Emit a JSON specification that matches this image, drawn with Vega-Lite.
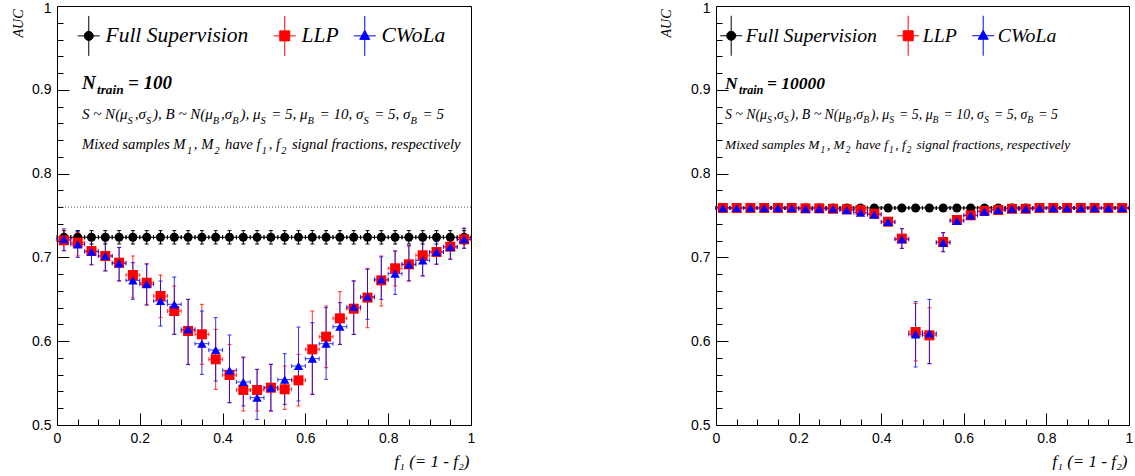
{
  "$schema": "https://vega.github.io/schema/vega-lite/v6.json",
  "background": "white",
  "padding": {"left": 10, "top": 0, "right": 0, "bottom": 0},
  "spacing": 182,
  "config": {
    "view": {"stroke": "#000000", "strokeWidth": 1},
    "axis": {
      "domain": false, "grid": false, "labelFlush": false, "labelOverlap": false,
      "labelFont": "Liberation Sans", "labelFontSize": 14, "labelColor": "#000000",
      "tickColor": "#000000", "tickWidth": 1, "titleColor": "#000000", "titleFontWeight": "normal"
    },
    "text": {"font": "Liberation Serif", "fontStyle": "italic", "align": "left", "baseline": "alphabetic", "color": "#000000"}
  },
  "resolve": {"scale": {"color": "independent"}, "legend": {"color": "independent"}},
  "datasets": {
    "auc": [
      {"n":100,"m":"Full Supervision","f":0.0167,"x0":0,"x1":0.0333,"a":0.724,"lo":0.716,"hi":0.732},
      {"n":100,"m":"Full Supervision","f":0.05,"x0":0.0333,"x1":0.0667,"a":0.724,"lo":0.716,"hi":0.732},
      {"n":100,"m":"Full Supervision","f":0.0833,"x0":0.0667,"x1":0.1,"a":0.724,"lo":0.716,"hi":0.732},
      {"n":100,"m":"Full Supervision","f":0.1167,"x0":0.1,"x1":0.1333,"a":0.724,"lo":0.716,"hi":0.732},
      {"n":100,"m":"Full Supervision","f":0.15,"x0":0.1333,"x1":0.1667,"a":0.724,"lo":0.716,"hi":0.732},
      {"n":100,"m":"Full Supervision","f":0.1833,"x0":0.1667,"x1":0.2,"a":0.724,"lo":0.716,"hi":0.732},
      {"n":100,"m":"Full Supervision","f":0.2167,"x0":0.2,"x1":0.2333,"a":0.724,"lo":0.716,"hi":0.732},
      {"n":100,"m":"Full Supervision","f":0.25,"x0":0.2333,"x1":0.2667,"a":0.724,"lo":0.716,"hi":0.732},
      {"n":100,"m":"Full Supervision","f":0.2833,"x0":0.2667,"x1":0.3,"a":0.724,"lo":0.716,"hi":0.732},
      {"n":100,"m":"Full Supervision","f":0.3167,"x0":0.3,"x1":0.3333,"a":0.724,"lo":0.716,"hi":0.732},
      {"n":100,"m":"Full Supervision","f":0.35,"x0":0.3333,"x1":0.3667,"a":0.724,"lo":0.716,"hi":0.732},
      {"n":100,"m":"Full Supervision","f":0.3833,"x0":0.3667,"x1":0.4,"a":0.724,"lo":0.716,"hi":0.732},
      {"n":100,"m":"Full Supervision","f":0.4167,"x0":0.4,"x1":0.4333,"a":0.724,"lo":0.716,"hi":0.732},
      {"n":100,"m":"Full Supervision","f":0.45,"x0":0.4333,"x1":0.4667,"a":0.724,"lo":0.716,"hi":0.732},
      {"n":100,"m":"Full Supervision","f":0.4833,"x0":0.4667,"x1":0.5,"a":0.724,"lo":0.716,"hi":0.732},
      {"n":100,"m":"Full Supervision","f":0.5167,"x0":0.5,"x1":0.5333,"a":0.724,"lo":0.716,"hi":0.732},
      {"n":100,"m":"Full Supervision","f":0.55,"x0":0.5333,"x1":0.5667,"a":0.724,"lo":0.716,"hi":0.732},
      {"n":100,"m":"Full Supervision","f":0.5833,"x0":0.5667,"x1":0.6,"a":0.724,"lo":0.716,"hi":0.732},
      {"n":100,"m":"Full Supervision","f":0.6167,"x0":0.6,"x1":0.6333,"a":0.724,"lo":0.716,"hi":0.732},
      {"n":100,"m":"Full Supervision","f":0.65,"x0":0.6333,"x1":0.6667,"a":0.724,"lo":0.716,"hi":0.732},
      {"n":100,"m":"Full Supervision","f":0.6833,"x0":0.6667,"x1":0.7,"a":0.724,"lo":0.716,"hi":0.732},
      {"n":100,"m":"Full Supervision","f":0.7167,"x0":0.7,"x1":0.7333,"a":0.724,"lo":0.716,"hi":0.732},
      {"n":100,"m":"Full Supervision","f":0.75,"x0":0.7333,"x1":0.7667,"a":0.724,"lo":0.716,"hi":0.732},
      {"n":100,"m":"Full Supervision","f":0.7833,"x0":0.7667,"x1":0.8,"a":0.724,"lo":0.716,"hi":0.732},
      {"n":100,"m":"Full Supervision","f":0.8167,"x0":0.8,"x1":0.8333,"a":0.724,"lo":0.716,"hi":0.732},
      {"n":100,"m":"Full Supervision","f":0.85,"x0":0.8333,"x1":0.8667,"a":0.724,"lo":0.716,"hi":0.732},
      {"n":100,"m":"Full Supervision","f":0.8833,"x0":0.8667,"x1":0.9,"a":0.724,"lo":0.716,"hi":0.732},
      {"n":100,"m":"Full Supervision","f":0.9167,"x0":0.9,"x1":0.9333,"a":0.724,"lo":0.716,"hi":0.732},
      {"n":100,"m":"Full Supervision","f":0.95,"x0":0.9333,"x1":0.9667,"a":0.724,"lo":0.716,"hi":0.732},
      {"n":100,"m":"Full Supervision","f":0.9833,"x0":0.9667,"x1":1,"a":0.724,"lo":0.716,"hi":0.732},

      {"n":100,"m":"LLP","f":0.0167,"x0":0,"x1":0.0333,"a":0.7204,"lo":0.708,"hi":0.732},
      {"n":100,"m":"LLP","f":0.05,"x0":0.0333,"x1":0.0667,"a":0.7176,"lo":0.7017,"hi":0.7295},
      {"n":100,"m":"LLP","f":0.0833,"x0":0.0667,"x1":0.1,"a":0.7076,"lo":0.6917,"hi":0.7216},
      {"n":100,"m":"LLP","f":0.1167,"x0":0.1,"x1":0.1333,"a":0.7017,"lo":0.6838,"hi":0.7196},
      {"n":100,"m":"LLP","f":0.15,"x0":0.1333,"x1":0.1667,"a":0.6937,"lo":0.6718,"hi":0.7116},
      {"n":100,"m":"LLP","f":0.1833,"x0":0.1667,"x1":0.2,"a":0.679,"lo":0.6519,"hi":0.7017},
      {"n":100,"m":"LLP","f":0.2167,"x0":0.2,"x1":0.2333,"a":0.6698,"lo":0.644,"hi":0.6925},
      {"n":100,"m":"LLP","f":0.25,"x0":0.2333,"x1":0.2667,"a":0.6539,"lo":0.6281,"hi":0.679},
      {"n":100,"m":"LLP","f":0.2833,"x0":0.2667,"x1":0.3,"a":0.636,"lo":0.6082,"hi":0.6659},
      {"n":100,"m":"LLP","f":0.3167,"x0":0.3,"x1":0.3333,"a":0.6122,"lo":0.5724,"hi":0.6499},
      {"n":100,"m":"LLP","f":0.35,"x0":0.3333,"x1":0.3667,"a":0.6082,"lo":0.5724,"hi":0.644},
      {"n":100,"m":"LLP","f":0.3833,"x0":0.3667,"x1":0.4,"a":0.5784,"lo":0.5425,"hi":0.6141},
      {"n":100,"m":"LLP","f":0.4167,"x0":0.4,"x1":0.4333,"a":0.5597,"lo":0.5266,"hi":0.5962},
      {"n":100,"m":"LLP","f":0.45,"x0":0.4333,"x1":0.4667,"a":0.5418,"lo":0.5167,"hi":0.5803},
      {"n":100,"m":"LLP","f":0.4833,"x0":0.4667,"x1":0.5,"a":0.5418,"lo":0.5167,"hi":0.5664},
      {"n":100,"m":"LLP","f":0.5167,"x0":0.5,"x1":0.5333,"a":0.5445,"lo":0.5167,"hi":0.5724},
      {"n":100,"m":"LLP","f":0.55,"x0":0.5333,"x1":0.5667,"a":0.5426,"lo":0.5187,"hi":0.5704},
      {"n":100,"m":"LLP","f":0.5833,"x0":0.5667,"x1":0.6,"a":0.5533,"lo":0.5227,"hi":0.5843},
      {"n":100,"m":"LLP","f":0.6167,"x0":0.6,"x1":0.6333,"a":0.5903,"lo":0.5366,"hi":0.636},
      {"n":100,"m":"LLP","f":0.65,"x0":0.6333,"x1":0.6667,"a":0.6054,"lo":0.5684,"hi":0.642},
      {"n":100,"m":"LLP","f":0.6833,"x0":0.6667,"x1":0.7,"a":0.6273,"lo":0.5962,"hi":0.6591},
      {"n":100,"m":"LLP","f":0.7167,"x0":0.7,"x1":0.7333,"a":0.6388,"lo":0.6082,"hi":0.6718},
      {"n":100,"m":"LLP","f":0.75,"x0":0.7333,"x1":0.7667,"a":0.652,"lo":0.6161,"hi":0.6869},
      {"n":100,"m":"LLP","f":0.7833,"x0":0.7667,"x1":0.8,"a":0.6726,"lo":0.642,"hi":0.7017},
      {"n":100,"m":"LLP","f":0.8167,"x0":0.8,"x1":0.8333,"a":0.687,"lo":0.6659,"hi":0.7076},
      {"n":100,"m":"LLP","f":0.85,"x0":0.8333,"x1":0.8667,"a":0.6917,"lo":0.6718,"hi":0.7136},
      {"n":100,"m":"LLP","f":0.8833,"x0":0.8667,"x1":0.9,"a":0.7025,"lo":0.6778,"hi":0.7235},
      {"n":100,"m":"LLP","f":0.9167,"x0":0.9,"x1":0.9333,"a":0.7064,"lo":0.6917,"hi":0.7188},
      {"n":100,"m":"LLP","f":0.95,"x0":0.9333,"x1":0.9667,"a":0.7128,"lo":0.6977,"hi":0.7275},
      {"n":100,"m":"LLP","f":0.9833,"x0":0.9667,"x1":1,"a":0.7216,"lo":0.7108,"hi":0.7347},

      {"n":100,"m":"CWoLa","f":0.0167,"x0":0,"x1":0.0333,"a":0.7216,"lo":0.708,"hi":0.734},
      {"n":100,"m":"CWoLa","f":0.05,"x0":0.0333,"x1":0.0667,"a":0.7156,"lo":0.700,"hi":0.731},
      {"n":100,"m":"CWoLa","f":0.0833,"x0":0.0667,"x1":0.1,"a":0.7068,"lo":0.691,"hi":0.722},
      {"n":100,"m":"CWoLa","f":0.1167,"x0":0.1,"x1":0.1333,"a":0.7017,"lo":0.684,"hi":0.720},
      {"n":100,"m":"CWoLa","f":0.15,"x0":0.1333,"x1":0.1667,"a":0.6929,"lo":0.672,"hi":0.712},
      {"n":100,"m":"CWoLa","f":0.1833,"x0":0.1667,"x1":0.2,"a":0.6726,"lo":0.6499,"hi":0.6937},
      {"n":100,"m":"CWoLa","f":0.2167,"x0":0.2,"x1":0.2333,"a":0.6679,"lo":0.643,"hi":0.692},
      {"n":100,"m":"CWoLa","f":0.25,"x0":0.2333,"x1":0.2667,"a":0.648,"lo":0.6181,"hi":0.6718},
      {"n":100,"m":"CWoLa","f":0.2833,"x0":0.2667,"x1":0.3,"a":0.644,"lo":0.6082,"hi":0.6766},
      {"n":100,"m":"CWoLa","f":0.3167,"x0":0.3,"x1":0.3333,"a":0.6142,"lo":0.572,"hi":0.650},
      {"n":100,"m":"CWoLa","f":0.35,"x0":0.3333,"x1":0.3667,"a":0.597,"lo":0.5604,"hi":0.636},
      {"n":100,"m":"CWoLa","f":0.3833,"x0":0.3667,"x1":0.4,"a":0.5895,"lo":0.5525,"hi":0.6281},
      {"n":100,"m":"CWoLa","f":0.4167,"x0":0.4,"x1":0.4333,"a":0.5652,"lo":0.5266,"hi":0.6074},
      {"n":100,"m":"CWoLa","f":0.45,"x0":0.4333,"x1":0.4667,"a":0.5513,"lo":0.5227,"hi":0.5811},
      {"n":100,"m":"CWoLa","f":0.4833,"x0":0.4667,"x1":0.5,"a":0.5326,"lo":0.5067,"hi":0.5664},
      {"n":100,"m":"CWoLa","f":0.5167,"x0":0.5,"x1":0.5333,"a":0.5445,"lo":0.5167,"hi":0.5724},
      {"n":100,"m":"CWoLa","f":0.55,"x0":0.5333,"x1":0.5667,"a":0.5541,"lo":0.5246,"hi":0.5851},
      {"n":100,"m":"CWoLa","f":0.5833,"x0":0.5667,"x1":0.6,"a":0.5704,"lo":0.5286,"hi":0.6169},
      {"n":100,"m":"CWoLa","f":0.6167,"x0":0.6,"x1":0.6333,"a":0.5792,"lo":0.5366,"hi":0.6221},
      {"n":100,"m":"CWoLa","f":0.65,"x0":0.6333,"x1":0.6667,"a":0.597,"lo":0.5545,"hi":0.64},
      {"n":100,"m":"CWoLa","f":0.6833,"x0":0.6667,"x1":0.7,"a":0.6173,"lo":0.5962,"hi":0.646},
      {"n":100,"m":"CWoLa","f":0.7167,"x0":0.7,"x1":0.7333,"a":0.6408,"lo":0.608,"hi":0.672},
      {"n":100,"m":"CWoLa","f":0.75,"x0":0.7333,"x1":0.7667,"a":0.6531,"lo":0.6261,"hi":0.6857},
      {"n":100,"m":"CWoLa","f":0.7833,"x0":0.7667,"x1":0.8,"a":0.6738,"lo":0.6499,"hi":0.7005},
      {"n":100,"m":"CWoLa","f":0.8167,"x0":0.8,"x1":0.8333,"a":0.6806,"lo":0.6559,"hi":0.7076},
      {"n":100,"m":"CWoLa","f":0.85,"x0":0.8333,"x1":0.8667,"a":0.6917,"lo":0.672,"hi":0.714},
      {"n":100,"m":"CWoLa","f":0.8833,"x0":0.8667,"x1":0.9,"a":0.6965,"lo":0.678,"hi":0.7235},
      {"n":100,"m":"CWoLa","f":0.9167,"x0":0.9,"x1":0.9333,"a":0.7064,"lo":0.692,"hi":0.719},
      {"n":100,"m":"CWoLa","f":0.95,"x0":0.9333,"x1":0.9667,"a":0.7124,"lo":0.698,"hi":0.7275},
      {"n":100,"m":"CWoLa","f":0.9833,"x0":0.9667,"x1":1,"a":0.7216,"lo":0.711,"hi":0.735},

      {"n":10000,"m":"Full Supervision","f":0.0167,"x0":0,"x1":0.0333,"a":0.759,"lo":0.758,"hi":0.760},
      {"n":10000,"m":"Full Supervision","f":0.05,"x0":0.0333,"x1":0.0667,"a":0.759,"lo":0.758,"hi":0.760},
      {"n":10000,"m":"Full Supervision","f":0.0833,"x0":0.0667,"x1":0.1,"a":0.759,"lo":0.758,"hi":0.760},
      {"n":10000,"m":"Full Supervision","f":0.1167,"x0":0.1,"x1":0.1333,"a":0.759,"lo":0.758,"hi":0.760},
      {"n":10000,"m":"Full Supervision","f":0.15,"x0":0.1333,"x1":0.1667,"a":0.759,"lo":0.758,"hi":0.760},
      {"n":10000,"m":"Full Supervision","f":0.1833,"x0":0.1667,"x1":0.2,"a":0.759,"lo":0.758,"hi":0.760},
      {"n":10000,"m":"Full Supervision","f":0.2167,"x0":0.2,"x1":0.2333,"a":0.759,"lo":0.758,"hi":0.760},
      {"n":10000,"m":"Full Supervision","f":0.25,"x0":0.2333,"x1":0.2667,"a":0.759,"lo":0.758,"hi":0.760},
      {"n":10000,"m":"Full Supervision","f":0.2833,"x0":0.2667,"x1":0.3,"a":0.759,"lo":0.758,"hi":0.760},
      {"n":10000,"m":"Full Supervision","f":0.3167,"x0":0.3,"x1":0.3333,"a":0.759,"lo":0.758,"hi":0.760},
      {"n":10000,"m":"Full Supervision","f":0.35,"x0":0.3333,"x1":0.3667,"a":0.759,"lo":0.758,"hi":0.760},
      {"n":10000,"m":"Full Supervision","f":0.3833,"x0":0.3667,"x1":0.4,"a":0.759,"lo":0.758,"hi":0.760},
      {"n":10000,"m":"Full Supervision","f":0.4167,"x0":0.4,"x1":0.4333,"a":0.759,"lo":0.758,"hi":0.760},
      {"n":10000,"m":"Full Supervision","f":0.45,"x0":0.4333,"x1":0.4667,"a":0.759,"lo":0.758,"hi":0.760},
      {"n":10000,"m":"Full Supervision","f":0.4833,"x0":0.4667,"x1":0.5,"a":0.759,"lo":0.758,"hi":0.760},
      {"n":10000,"m":"Full Supervision","f":0.5167,"x0":0.5,"x1":0.5333,"a":0.759,"lo":0.758,"hi":0.760},
      {"n":10000,"m":"Full Supervision","f":0.55,"x0":0.5333,"x1":0.5667,"a":0.759,"lo":0.758,"hi":0.760},
      {"n":10000,"m":"Full Supervision","f":0.5833,"x0":0.5667,"x1":0.6,"a":0.759,"lo":0.758,"hi":0.760},
      {"n":10000,"m":"Full Supervision","f":0.6167,"x0":0.6,"x1":0.6333,"a":0.759,"lo":0.758,"hi":0.760},
      {"n":10000,"m":"Full Supervision","f":0.65,"x0":0.6333,"x1":0.6667,"a":0.759,"lo":0.758,"hi":0.760},
      {"n":10000,"m":"Full Supervision","f":0.6833,"x0":0.6667,"x1":0.7,"a":0.759,"lo":0.758,"hi":0.760},
      {"n":10000,"m":"Full Supervision","f":0.7167,"x0":0.7,"x1":0.7333,"a":0.759,"lo":0.758,"hi":0.760},
      {"n":10000,"m":"Full Supervision","f":0.75,"x0":0.7333,"x1":0.7667,"a":0.759,"lo":0.758,"hi":0.760},
      {"n":10000,"m":"Full Supervision","f":0.7833,"x0":0.7667,"x1":0.8,"a":0.759,"lo":0.758,"hi":0.760},
      {"n":10000,"m":"Full Supervision","f":0.8167,"x0":0.8,"x1":0.8333,"a":0.759,"lo":0.758,"hi":0.760},
      {"n":10000,"m":"Full Supervision","f":0.85,"x0":0.8333,"x1":0.8667,"a":0.759,"lo":0.758,"hi":0.760},
      {"n":10000,"m":"Full Supervision","f":0.8833,"x0":0.8667,"x1":0.9,"a":0.759,"lo":0.758,"hi":0.760},
      {"n":10000,"m":"Full Supervision","f":0.9167,"x0":0.9,"x1":0.9333,"a":0.759,"lo":0.758,"hi":0.760},
      {"n":10000,"m":"Full Supervision","f":0.95,"x0":0.9333,"x1":0.9667,"a":0.759,"lo":0.758,"hi":0.760},
      {"n":10000,"m":"Full Supervision","f":0.9833,"x0":0.9667,"x1":1,"a":0.759,"lo":0.758,"hi":0.760},

      {"n":10000,"m":"LLP","f":0.0167,"x0":0,"x1":0.0333,"a":0.759,"lo":0.757,"hi":0.761},
      {"n":10000,"m":"LLP","f":0.05,"x0":0.0333,"x1":0.0667,"a":0.759,"lo":0.757,"hi":0.761},
      {"n":10000,"m":"LLP","f":0.0833,"x0":0.0667,"x1":0.1,"a":0.759,"lo":0.757,"hi":0.761},
      {"n":10000,"m":"LLP","f":0.1167,"x0":0.1,"x1":0.1333,"a":0.759,"lo":0.757,"hi":0.761},
      {"n":10000,"m":"LLP","f":0.15,"x0":0.1333,"x1":0.1667,"a":0.759,"lo":0.757,"hi":0.761},
      {"n":10000,"m":"LLP","f":0.1833,"x0":0.1667,"x1":0.2,"a":0.759,"lo":0.757,"hi":0.761},
      {"n":10000,"m":"LLP","f":0.2167,"x0":0.2,"x1":0.2333,"a":0.7585,"lo":0.7565,"hi":0.7605},
      {"n":10000,"m":"LLP","f":0.25,"x0":0.2333,"x1":0.2667,"a":0.7585,"lo":0.7565,"hi":0.7605},
      {"n":10000,"m":"LLP","f":0.2833,"x0":0.2667,"x1":0.3,"a":0.758,"lo":0.756,"hi":0.760},
      {"n":10000,"m":"LLP","f":0.3167,"x0":0.3,"x1":0.3333,"a":0.7574,"lo":0.7545,"hi":0.7605},
      {"n":10000,"m":"LLP","f":0.35,"x0":0.3333,"x1":0.3667,"a":0.7566,"lo":0.7536,"hi":0.7596},
      {"n":10000,"m":"LLP","f":0.3833,"x0":0.3667,"x1":0.4,"a":0.7522,"lo":0.7492,"hi":0.7552},
      {"n":10000,"m":"LLP","f":0.4167,"x0":0.4,"x1":0.4333,"a":0.7426,"lo":0.7396,"hi":0.7456},
      {"n":10000,"m":"LLP","f":0.45,"x0":0.4333,"x1":0.4667,"a":0.7224,"lo":0.7108,"hi":0.7343},
      {"n":10000,"m":"LLP","f":0.4833,"x0":0.4667,"x1":0.5,"a":0.611,"lo":0.5764,"hi":0.645},
      {"n":10000,"m":"LLP","f":0.5167,"x0":0.5,"x1":0.5333,"a":0.607,"lo":0.5732,"hi":0.640},
      {"n":10000,"m":"LLP","f":0.55,"x0":0.5333,"x1":0.5667,"a":0.7184,"lo":0.7068,"hi":0.7295},
      {"n":10000,"m":"LLP","f":0.5833,"x0":0.5667,"x1":0.6,"a":0.7446,"lo":0.7416,"hi":0.7476},
      {"n":10000,"m":"LLP","f":0.6167,"x0":0.6,"x1":0.6333,"a":0.7502,"lo":0.7472,"hi":0.7532},
      {"n":10000,"m":"LLP","f":0.65,"x0":0.6333,"x1":0.6667,"a":0.7554,"lo":0.7524,"hi":0.7584},
      {"n":10000,"m":"LLP","f":0.6833,"x0":0.6667,"x1":0.7,"a":0.7566,"lo":0.7536,"hi":0.7596},
      {"n":10000,"m":"LLP","f":0.7167,"x0":0.7,"x1":0.7333,"a":0.758,"lo":0.756,"hi":0.760},
      {"n":10000,"m":"LLP","f":0.75,"x0":0.7333,"x1":0.7667,"a":0.758,"lo":0.756,"hi":0.760},
      {"n":10000,"m":"LLP","f":0.7833,"x0":0.7667,"x1":0.8,"a":0.759,"lo":0.757,"hi":0.761},
      {"n":10000,"m":"LLP","f":0.8167,"x0":0.8,"x1":0.8333,"a":0.759,"lo":0.757,"hi":0.761},
      {"n":10000,"m":"LLP","f":0.85,"x0":0.8333,"x1":0.8667,"a":0.759,"lo":0.757,"hi":0.761},
      {"n":10000,"m":"LLP","f":0.8833,"x0":0.8667,"x1":0.9,"a":0.759,"lo":0.757,"hi":0.761},
      {"n":10000,"m":"LLP","f":0.9167,"x0":0.9,"x1":0.9333,"a":0.759,"lo":0.757,"hi":0.761},
      {"n":10000,"m":"LLP","f":0.95,"x0":0.9333,"x1":0.9667,"a":0.759,"lo":0.757,"hi":0.761},
      {"n":10000,"m":"LLP","f":0.9833,"x0":0.9667,"x1":1,"a":0.759,"lo":0.757,"hi":0.761},

      {"n":10000,"m":"CWoLa","f":0.0167,"x0":0,"x1":0.0333,"a":0.759,"lo":0.757,"hi":0.761},
      {"n":10000,"m":"CWoLa","f":0.05,"x0":0.0333,"x1":0.0667,"a":0.759,"lo":0.757,"hi":0.761},
      {"n":10000,"m":"CWoLa","f":0.0833,"x0":0.0667,"x1":0.1,"a":0.759,"lo":0.757,"hi":0.761},
      {"n":10000,"m":"CWoLa","f":0.1167,"x0":0.1,"x1":0.1333,"a":0.759,"lo":0.757,"hi":0.761},
      {"n":10000,"m":"CWoLa","f":0.15,"x0":0.1333,"x1":0.1667,"a":0.759,"lo":0.757,"hi":0.761},
      {"n":10000,"m":"CWoLa","f":0.1833,"x0":0.1667,"x1":0.2,"a":0.759,"lo":0.757,"hi":0.761},
      {"n":10000,"m":"CWoLa","f":0.2167,"x0":0.2,"x1":0.2333,"a":0.758,"lo":0.756,"hi":0.760},
      {"n":10000,"m":"CWoLa","f":0.25,"x0":0.2333,"x1":0.2667,"a":0.758,"lo":0.756,"hi":0.760},
      {"n":10000,"m":"CWoLa","f":0.2833,"x0":0.2667,"x1":0.3,"a":0.758,"lo":0.756,"hi":0.760},
      {"n":10000,"m":"CWoLa","f":0.3167,"x0":0.3,"x1":0.3333,"a":0.7562,"lo":0.7532,"hi":0.7592},
      {"n":10000,"m":"CWoLa","f":0.35,"x0":0.3333,"x1":0.3667,"a":0.7534,"lo":0.7504,"hi":0.7564},
      {"n":10000,"m":"CWoLa","f":0.3833,"x0":0.3667,"x1":0.4,"a":0.751,"lo":0.748,"hi":0.754},
      {"n":10000,"m":"CWoLa","f":0.4167,"x0":0.4,"x1":0.4333,"a":0.7422,"lo":0.7392,"hi":0.7452},
      {"n":10000,"m":"CWoLa","f":0.45,"x0":0.4333,"x1":0.4667,"a":0.7216,"lo":0.7108,"hi":0.7343},
      {"n":10000,"m":"CWoLa","f":0.4833,"x0":0.4667,"x1":0.5,"a":0.6082,"lo":0.5692,"hi":0.6472},
      {"n":10000,"m":"CWoLa","f":0.5167,"x0":0.5,"x1":0.5333,"a":0.6094,"lo":0.5732,"hi":0.6499},
      {"n":10000,"m":"CWoLa","f":0.55,"x0":0.5333,"x1":0.5667,"a":0.7176,"lo":0.7068,"hi":0.7295},
      {"n":10000,"m":"CWoLa","f":0.5833,"x0":0.5667,"x1":0.6,"a":0.7434,"lo":0.7404,"hi":0.7464},
      {"n":10000,"m":"CWoLa","f":0.6167,"x0":0.6,"x1":0.6333,"a":0.7502,"lo":0.7472,"hi":0.7532},
      {"n":10000,"m":"CWoLa","f":0.65,"x0":0.6333,"x1":0.6667,"a":0.7546,"lo":0.7516,"hi":0.7576},
      {"n":10000,"m":"CWoLa","f":0.6833,"x0":0.6667,"x1":0.7,"a":0.7566,"lo":0.7536,"hi":0.7596},
      {"n":10000,"m":"CWoLa","f":0.7167,"x0":0.7,"x1":0.7333,"a":0.758,"lo":0.756,"hi":0.760},
      {"n":10000,"m":"CWoLa","f":0.75,"x0":0.7333,"x1":0.7667,"a":0.758,"lo":0.756,"hi":0.760},
      {"n":10000,"m":"CWoLa","f":0.7833,"x0":0.7667,"x1":0.8,"a":0.759,"lo":0.757,"hi":0.761},
      {"n":10000,"m":"CWoLa","f":0.8167,"x0":0.8,"x1":0.8333,"a":0.759,"lo":0.757,"hi":0.761},
      {"n":10000,"m":"CWoLa","f":0.85,"x0":0.8333,"x1":0.8667,"a":0.759,"lo":0.757,"hi":0.761},
      {"n":10000,"m":"CWoLa","f":0.8833,"x0":0.8667,"x1":0.9,"a":0.759,"lo":0.757,"hi":0.761},
      {"n":10000,"m":"CWoLa","f":0.9167,"x0":0.9,"x1":0.9333,"a":0.759,"lo":0.757,"hi":0.761},
      {"n":10000,"m":"CWoLa","f":0.95,"x0":0.9333,"x1":0.9667,"a":0.759,"lo":0.757,"hi":0.761},
      {"n":10000,"m":"CWoLa","f":0.9833,"x0":0.9667,"x1":1,"a":0.759,"lo":0.757,"hi":0.761}
    ]
  },
  "hconcat": [
    {
      "width": 414,
      "height": 419,
      "data": {"name": "auc"},
      "transform": [{"filter": "datum.n === 100"}],
      "layer": [
        {
          "data": {"values": [{}]},
          "mark": {"type": "rule", "color": "#555555", "strokeDash": [1, 2], "strokeWidth": 1},
          "encoding": {"y": {"datum": 0.76}}
        },
        {
          "mark": {"type": "rule", "strokeWidth": 1},
          "encoding": {
            "x": {"field": "f", "type": "quantitative", "scale": {"domain": [0, 1], "nice": false},
              "axis": {
                "values": [0,0.05,0.1,0.15,0.2,0.25,0.3,0.35,0.4,0.45,0.5,0.55,0.6,0.65,0.7,0.75,0.8,0.85,0.9,0.95,1],
                "tickCount": 100,
                "tickSize": {"condition": {"test": "abs(datum.value*5 - round(datum.value*5)) < 0.001", "value": -12}, "value": -6},
                "labelExpr": "abs(datum.value*5 - round(datum.value*5)) < 0.001 ? format(datum.value, '.1~f') : ''",
                "labelPadding": 18, "labelBaseline": "top", "labelOverlap": false, "labelBound": false,
                "title": "f₁ (= 1 - f₂)", "titleX": 412, "titleY": 41, "titleAlign": "right", "titleBaseline": "alphabetic",
                "titleFont": "Liberation Serif", "titleFontStyle": "italic", "titleFontSize": 17
              }},
            "y": {"field": "lo", "type": "quantitative", "scale": {"domain": [0.5, 1], "nice": false, "zero": false},
              "axis": {
                "values": [0.5,0.52,0.54,0.56,0.58,0.6,0.62,0.64,0.66,0.68,0.7,0.72,0.74,0.76,0.78,0.8,0.82,0.84,0.86,0.88,0.9,0.92,0.94,0.96,0.98,1],
                "tickCount": 100,
                "tickSize": {"condition": {"test": "abs(datum.value*10 - round(datum.value*10)) < 0.001", "value": -12}, "value": -6},
                "labelExpr": "abs(datum.value*10 - round(datum.value*10)) < 0.001 ? format(datum.value, '.1~f') : ''",
                "labelOffset": {"condition": {"test": "datum.value > 0.99", "value": 2}, "value": 0},
                "labelPadding": 18, "labelBaseline": "middle", "labelAlign": "right", "labelOverlap": false, "labelBound": false,
                "title": "AUC", "titleAngle": -90, "titleX": -39, "titleY": 3, "titleAlign": "right", "titleBaseline": "middle",
                "titleFont": "Liberation Serif", "titleFontStyle": "italic", "titleFontSize": 14
              }},
            "y2": {"field": "hi"},
            "color": {"field": "m", "type": "nominal",
              "scale": {"domain": ["Full Supervision", "LLP", "CWoLa"], "range": ["#000000", "#ff0000", "#0000ff"]},
              "legend": {
                "orient": "none", "legendX": 21, "legendY": 19, "direction": "horizontal", "title": null,
                "padding": 0, "symbolSize": 400, "symbolStrokeWidth": 1, "symbolOpacity": 1,
                "labelFont": "Liberation Serif", "labelFontStyle": "italic", "labelFontSize": 21.5, "labelColor": "#000000",
                "labelOffset": 6, "columnPadding": 12, "labelLimit": 400,
                "labelExpr": "datum.label === 'Full Supervision' ? 'Full Supervision\u00a0\u00a0\u200b' : datum.label",
                "encode": {"symbols": {"update": {
                  "shape": {"signal": "datum.value === 'LLP' ? 'M-1.1,0H1.1M0,-2V2M-0.5,-0.5H0.5V0.5H-0.5Z' : datum.value === 'CWoLa' ? 'M-1.1,0H1.1M0,-2V2M0,-0.55L0.5,0.35H-0.5Z' : 'M-1.1,0H1.1M0,-2V2M0.45,0A0.45,0.45,0,1,1,-0.45,0A0.45,0.45,0,1,1,0.45,0Z'"},
                  "fill": {"signal": "datum.value === 'LLP' ? '#ff0000' : datum.value === 'CWoLa' ? '#0000ff' : '#000000'"},
                  "stroke": {"signal": "datum.value === 'LLP' ? '#ff0000' : datum.value === 'CWoLa' ? '#0000ff' : '#000000'"},
                  "strokeWidth": {"value": 1}
                }}}
              }},
            "opacity": {"condition": {"test": "datum.m === 'Full Supervision'", "value": 1}, "value": 0.8}
          }
        },
        {
          "mark": {"type": "rule", "strokeWidth": 1},
          "encoding": {
            "x": {"field": "x0", "type": "quantitative"},
            "x2": {"field": "x1"},
            "y": {"field": "a", "type": "quantitative"},
            "color": {"field": "m", "type": "nominal"},
            "opacity": {"condition": {"test": "datum.m === 'Full Supervision'", "value": 1}, "value": 0.8}
          }
        },
        {
          "mark": {"type": "tick", "orient": "horizontal", "size": 4, "thickness": 1},
          "encoding": {
            "x": {"field": "f", "type": "quantitative"},
            "y": {"field": "lo", "type": "quantitative"},
            "color": {"field": "m", "type": "nominal"},
            "opacity": {"condition": {"test": "datum.m === 'Full Supervision'", "value": 1}, "value": 0.8}
          }
        },
        {
          "mark": {"type": "tick", "orient": "horizontal", "size": 4, "thickness": 1},
          "encoding": {
            "x": {"field": "f", "type": "quantitative"},
            "y": {"field": "hi", "type": "quantitative"},
            "color": {"field": "m", "type": "nominal"},
            "opacity": {"condition": {"test": "datum.m === 'Full Supervision'", "value": 1}, "value": 0.8}
          }
        },
        {
          "mark": {"type": "tick", "orient": "vertical", "size": 4, "thickness": 1},
          "encoding": {
            "x": {"field": "x0", "type": "quantitative"},
            "y": {"field": "a", "type": "quantitative"},
            "color": {"field": "m", "type": "nominal"},
            "opacity": {"condition": {"test": "datum.m === 'Full Supervision'", "value": 1}, "value": 0.8}
          }
        },
        {
          "mark": {"type": "tick", "orient": "vertical", "size": 4, "thickness": 1},
          "encoding": {
            "x": {"field": "x1", "type": "quantitative"},
            "y": {"field": "a", "type": "quantitative"},
            "color": {"field": "m", "type": "nominal"},
            "opacity": {"condition": {"test": "datum.m === 'Full Supervision'", "value": 1}, "value": 0.8}
          }
        },
        {
          "transform": [{"filter": "datum.m === 'Full Supervision'"}],
          "mark": {"type": "point", "shape": "circle", "size": 81, "filled": true, "opacity": 1, "strokeWidth": 0},
          "encoding": {
            "x": {"field": "f", "type": "quantitative"},
            "y": {"field": "a", "type": "quantitative"},
            "color": {"field": "m", "type": "nominal"}
          }
        },
        {
          "transform": [{"filter": "datum.m === 'LLP'"}],
          "mark": {"type": "point", "shape": "square", "size": 100, "filled": true, "opacity": 1, "strokeWidth": 0},
          "encoding": {
            "x": {"field": "f", "type": "quantitative"},
            "y": {"field": "a", "type": "quantitative"},
            "color": {"field": "m", "type": "nominal"}
          }
        },
        {
          "transform": [{"filter": "datum.m === 'CWoLa'"}],
          "mark": {"type": "point", "shape": "triangle-up", "size": 88, "filled": true, "opacity": 1, "strokeWidth": 0},
          "encoding": {
            "x": {"field": "f", "type": "quantitative"},
            "y": {"field": "a", "type": "quantitative"},
            "color": {"field": "m", "type": "nominal"}
          }
        },
        {
          "data": {"values": [{}]},
          "encoding": {"x": {"datum": 0.0604}},
          "layer": [
            {
              "encoding": {"y": {"datum": 0.9006}},
              "layer": [
                {"mark": {"type": "text", "text": "N", "fontSize": 19, "fontWeight": "bold", "dx": 0}},
                {"mark": {"type": "text", "text": "train", "fontSize": 13.3, "fontWeight": "bold", "dx": 15, "dy": 5}},
                {"mark": {"type": "text", "text": "= 100", "fontSize": 19, "fontWeight": "bold", "dx": 46}}
              ]
            },
            {
              "encoding": {"y": {"datum": 0.8646}},
              "layer": [
                {"mark": {"type": "text", "text": "S ~ N(μ", "fontSize": 15, "dx": 0}},
                {"mark": {"type": "text", "text": "S", "fontSize": 10.5, "dx": 45.6, "dy": 4.5}},
                {"mark": {"type": "text", "text": ",σ", "fontSize": 15, "dx": 52.7}},
                {"mark": {"type": "text", "text": "S", "fontSize": 10.5, "dx": 63.9, "dy": 4.5}},
                {"mark": {"type": "text", "text": "), B ~ N(μ", "fontSize": 15, "dx": 71.0}},
                {"mark": {"type": "text", "text": "B", "fontSize": 10.5, "dx": 130.7, "dy": 4.5}},
                {"mark": {"type": "text", "text": ",σ", "fontSize": 15, "dx": 139.0}},
                {"mark": {"type": "text", "text": "B", "fontSize": 10.5, "dx": 150.2, "dy": 4.5}},
                {"mark": {"type": "text", "text": "), μ", "fontSize": 15, "dx": 158.4}},
                {"mark": {"type": "text", "text": "S", "fontSize": 10.5, "dx": 178.4, "dy": 4.5}},
                {"mark": {"type": "text", "text": "= 5, μ", "fontSize": 15, "dx": 189.2}},
                {"mark": {"type": "text", "text": "B", "fontSize": 10.5, "dx": 225.6, "dy": 4.5}},
                {"mark": {"type": "text", "text": "= 10, σ", "fontSize": 15, "dx": 237.6}},
                {"mark": {"type": "text", "text": "S", "fontSize": 10.5, "dx": 281.4, "dy": 4.5}},
                {"mark": {"type": "text", "text": "= 5, σ", "fontSize": 15, "dx": 292.2}},
                {"mark": {"type": "text", "text": "B", "fontSize": 10.5, "dx": 328.6, "dy": 4.5}},
                {"mark": {"type": "text", "text": "= 5", "fontSize": 15, "dx": 340.6}}
              ]
            },
            {
              "encoding": {"y": {"datum": 0.829}},
              "layer": [
                {"mark": {"type": "text", "text": "Mixed samples M", "fontSize": 14.7, "dx": 0}},
                {"mark": {"type": "text", "text": "1", "fontSize": 10.3, "dx": 104.9, "dy": 4.5}},
                {"mark": {"type": "text", "text": ", M", "fontSize": 14.7, "dx": 111.8}},
                {"mark": {"type": "text", "text": "2", "fontSize": 10.3, "dx": 132.5, "dy": 4.5}},
                {"mark": {"type": "text", "text": "have f", "fontSize": 14.7, "dx": 143.1}},
                {"mark": {"type": "text", "text": "1", "fontSize": 10.3, "dx": 179.8, "dy": 4.5}},
                {"mark": {"type": "text", "text": ", f", "fontSize": 14.7, "dx": 186.7}},
                {"mark": {"type": "text", "text": "2", "fontSize": 10.3, "dx": 199.3, "dy": 4.5}},
                {"mark": {"type": "text", "text": "signal fractions, respectively", "fontSize": 14.7, "dx": 209.9}}
              ]
            }
          ]
        }
      ]
    },
    {
      "width": 413,
      "height": 419,
      "data": {"name": "auc"},
      "transform": [{"filter": "datum.n === 10000"}],
      "layer": [
        {
          "data": {"values": [{}]},
          "mark": {"type": "rule", "color": "#555555", "strokeDash": [1, 2], "strokeWidth": 1},
          "encoding": {"y": {"datum": 0.76}}
        },
        {
          "mark": {"type": "rule", "strokeWidth": 1},
          "encoding": {
            "x": {"field": "f", "type": "quantitative", "scale": {"domain": [0, 1], "nice": false},
              "axis": {
                "values": [0,0.05,0.1,0.15,0.2,0.25,0.3,0.35,0.4,0.45,0.5,0.55,0.6,0.65,0.7,0.75,0.8,0.85,0.9,0.95,1],
                "tickCount": 100,
                "tickSize": {"condition": {"test": "abs(datum.value*5 - round(datum.value*5)) < 0.001", "value": -12}, "value": -6},
                "labelExpr": "abs(datum.value*5 - round(datum.value*5)) < 0.001 ? format(datum.value, '.1~f') : ''",
                "labelPadding": 18, "labelBaseline": "top", "labelOverlap": false, "labelBound": false,
                "title": "f₁ (= 1 - f₂)", "titleX": 411, "titleY": 41, "titleAlign": "right", "titleBaseline": "alphabetic",
                "titleFont": "Liberation Serif", "titleFontStyle": "italic", "titleFontSize": 17
              }},
            "y": {"field": "lo", "type": "quantitative", "scale": {"domain": [0.5, 1], "nice": false, "zero": false},
              "axis": {
                "values": [0.5,0.52,0.54,0.56,0.58,0.6,0.62,0.64,0.66,0.68,0.7,0.72,0.74,0.76,0.78,0.8,0.82,0.84,0.86,0.88,0.9,0.92,0.94,0.96,0.98,1],
                "tickCount": 100,
                "tickSize": {"condition": {"test": "abs(datum.value*10 - round(datum.value*10)) < 0.001", "value": -12}, "value": -6},
                "labelExpr": "abs(datum.value*10 - round(datum.value*10)) < 0.001 ? format(datum.value, '.1~f') : ''",
                "labelOffset": {"condition": {"test": "datum.value > 0.99", "value": 2}, "value": 0},
                "labelPadding": 18, "labelBaseline": "middle", "labelAlign": "right", "labelOverlap": false, "labelBound": false,
                "title": "AUC", "titleAngle": -90, "titleX": -50, "titleY": 3, "titleAlign": "right", "titleBaseline": "middle",
                "titleFont": "Liberation Serif", "titleFontStyle": "italic", "titleFontSize": 14
              }},
            "y2": {"field": "hi"},
            "color": {"field": "m", "type": "nominal",
              "scale": {"domain": ["Full Supervision", "LLP", "CWoLa"], "range": ["#000000", "#ff0000", "#0000ff"]},
              "legend": {
                "orient": "none", "legendX": 4.7, "legendY": 19, "direction": "horizontal", "title": null,
                "padding": 0, "symbolSize": 400, "symbolStrokeWidth": 1, "symbolOpacity": 1,
                "labelFont": "Liberation Serif", "labelFontStyle": "italic", "labelFontSize": 19.8, "labelColor": "#000000",
                "labelOffset": 4, "columnPadding": 12, "labelLimit": 400,
                "labelExpr": "datum.label === 'Full Supervision' ? 'Full Supervision\u00a0\u200b' : datum.label",
                "encode": {"symbols": {"update": {
                  "shape": {"signal": "datum.value === 'LLP' ? 'M-1.1,0H1.1M0,-2V2M-0.5,-0.5H0.5V0.5H-0.5Z' : datum.value === 'CWoLa' ? 'M-1.1,0H1.1M0,-2V2M0,-0.55L0.5,0.35H-0.5Z' : 'M-1.1,0H1.1M0,-2V2M0.45,0A0.45,0.45,0,1,1,-0.45,0A0.45,0.45,0,1,1,0.45,0Z'"},
                  "fill": {"signal": "datum.value === 'LLP' ? '#ff0000' : datum.value === 'CWoLa' ? '#0000ff' : '#000000'"},
                  "stroke": {"signal": "datum.value === 'LLP' ? '#ff0000' : datum.value === 'CWoLa' ? '#0000ff' : '#000000'"},
                  "strokeWidth": {"value": 1}
                }}}
              }},
            "opacity": {"condition": {"test": "datum.m === 'Full Supervision'", "value": 1}, "value": 0.8}
          }
        },
        {
          "mark": {"type": "rule", "strokeWidth": 1},
          "encoding": {
            "x": {"field": "x0", "type": "quantitative"},
            "x2": {"field": "x1"},
            "y": {"field": "a", "type": "quantitative"},
            "color": {"field": "m", "type": "nominal"},
            "opacity": {"condition": {"test": "datum.m === 'Full Supervision'", "value": 1}, "value": 0.8}
          }
        },
        {
          "mark": {"type": "tick", "orient": "horizontal", "size": 4, "thickness": 1},
          "encoding": {
            "x": {"field": "f", "type": "quantitative"},
            "y": {"field": "lo", "type": "quantitative"},
            "color": {"field": "m", "type": "nominal"},
            "opacity": {"condition": {"test": "datum.m === 'Full Supervision'", "value": 1}, "value": 0.8}
          }
        },
        {
          "mark": {"type": "tick", "orient": "horizontal", "size": 4, "thickness": 1},
          "encoding": {
            "x": {"field": "f", "type": "quantitative"},
            "y": {"field": "hi", "type": "quantitative"},
            "color": {"field": "m", "type": "nominal"},
            "opacity": {"condition": {"test": "datum.m === 'Full Supervision'", "value": 1}, "value": 0.8}
          }
        },
        {
          "mark": {"type": "tick", "orient": "vertical", "size": 4, "thickness": 1},
          "encoding": {
            "x": {"field": "x0", "type": "quantitative"},
            "y": {"field": "a", "type": "quantitative"},
            "color": {"field": "m", "type": "nominal"},
            "opacity": {"condition": {"test": "datum.m === 'Full Supervision'", "value": 1}, "value": 0.8}
          }
        },
        {
          "mark": {"type": "tick", "orient": "vertical", "size": 4, "thickness": 1},
          "encoding": {
            "x": {"field": "x1", "type": "quantitative"},
            "y": {"field": "a", "type": "quantitative"},
            "color": {"field": "m", "type": "nominal"},
            "opacity": {"condition": {"test": "datum.m === 'Full Supervision'", "value": 1}, "value": 0.8}
          }
        },
        {
          "transform": [{"filter": "datum.m === 'Full Supervision'"}],
          "mark": {"type": "point", "shape": "circle", "size": 81, "filled": true, "opacity": 1, "strokeWidth": 0},
          "encoding": {
            "x": {"field": "f", "type": "quantitative"},
            "y": {"field": "a", "type": "quantitative"},
            "color": {"field": "m", "type": "nominal"}
          }
        },
        {
          "transform": [{"filter": "datum.m === 'LLP'"}],
          "mark": {"type": "point", "shape": "square", "size": 100, "filled": true, "opacity": 1, "strokeWidth": 0},
          "encoding": {
            "x": {"field": "f", "type": "quantitative"},
            "y": {"field": "a", "type": "quantitative"},
            "color": {"field": "m", "type": "nominal"}
          }
        },
        {
          "transform": [{"filter": "datum.m === 'CWoLa'"}],
          "mark": {"type": "point", "shape": "triangle-up", "size": 88, "filled": true, "opacity": 1, "strokeWidth": 0},
          "encoding": {
            "x": {"field": "f", "type": "quantitative"},
            "y": {"field": "a", "type": "quantitative"},
            "color": {"field": "m", "type": "nominal"}
          }
        },
        {
          "data": {"values": [{}]},
          "encoding": {"x": {"datum": 0.0218}},
          "layer": [
            {
              "encoding": {"y": {"datum": 0.9006}},
              "layer": [
                {"mark": {"type": "text", "text": "N", "fontSize": 17.5, "fontWeight": "bold", "dx": 0}},
                {"mark": {"type": "text", "text": "train", "fontSize": 12.2, "fontWeight": "bold", "dx": 14, "dy": 4.5}},
                {"mark": {"type": "text", "text": "= 10000", "fontSize": 17.5, "fontWeight": "bold", "dx": 42}}
              ]
            },
            {
              "encoding": {"y": {"datum": 0.8646}},
              "layer": [
                {"mark": {"type": "text", "text": "S ~ N(μ", "fontSize": 13.8, "dx": 0}},
                {"mark": {"type": "text", "text": "S", "fontSize": 9.7, "dx": 42.0, "dy": 4}},
                {"mark": {"type": "text", "text": ",σ", "fontSize": 13.8, "dx": 48.5}},
                {"mark": {"type": "text", "text": "S", "fontSize": 9.7, "dx": 58.8, "dy": 4}},
                {"mark": {"type": "text", "text": "), B ~ N(μ", "fontSize": 13.8, "dx": 65.3}},
                {"mark": {"type": "text", "text": "B", "fontSize": 9.7, "dx": 120.3, "dy": 4}},
                {"mark": {"type": "text", "text": ",σ", "fontSize": 13.8, "dx": 127.8}},
                {"mark": {"type": "text", "text": "B", "fontSize": 9.7, "dx": 138.2, "dy": 4}},
                {"mark": {"type": "text", "text": "), μ", "fontSize": 13.8, "dx": 145.8}},
                {"mark": {"type": "text", "text": "S", "fontSize": 9.7, "dx": 164.2, "dy": 4}},
                {"mark": {"type": "text", "text": "= 5, μ", "fontSize": 13.8, "dx": 174.1}},
                {"mark": {"type": "text", "text": "B", "fontSize": 9.7, "dx": 207.6, "dy": 4}},
                {"mark": {"type": "text", "text": "= 10, σ", "fontSize": 13.8, "dx": 218.6}},
                {"mark": {"type": "text", "text": "S", "fontSize": 9.7, "dx": 258.9, "dy": 4}},
                {"mark": {"type": "text", "text": "= 5, σ", "fontSize": 13.8, "dx": 268.9}},
                {"mark": {"type": "text", "text": "B", "fontSize": 9.7, "dx": 302.3, "dy": 4}},
                {"mark": {"type": "text", "text": "= 5", "fontSize": 13.8, "dx": 313.3}}
              ]
            },
            {
              "encoding": {"y": {"datum": 0.829}},
              "layer": [
                {"mark": {"type": "text", "text": "Mixed samples M", "fontSize": 13.4, "dx": 0}},
                {"mark": {"type": "text", "text": "1", "fontSize": 9.4, "dx": 95.6, "dy": 4}},
                {"mark": {"type": "text", "text": ", M", "fontSize": 13.4, "dx": 101.9}},
                {"mark": {"type": "text", "text": "2", "fontSize": 9.4, "dx": 120.8, "dy": 4}},
                {"mark": {"type": "text", "text": "have f", "fontSize": 13.4, "dx": 130.5}},
                {"mark": {"type": "text", "text": "1", "fontSize": 9.4, "dx": 163.9, "dy": 4}},
                {"mark": {"type": "text", "text": ", f", "fontSize": 13.4, "dx": 170.2}},
                {"mark": {"type": "text", "text": "2", "fontSize": 9.4, "dx": 181.7, "dy": 4}},
                {"mark": {"type": "text", "text": "signal fractions, respectively", "fontSize": 13.4, "dx": 191.4}}
              ]
            }
          ]
        }
      ]
    }
  ]
}
